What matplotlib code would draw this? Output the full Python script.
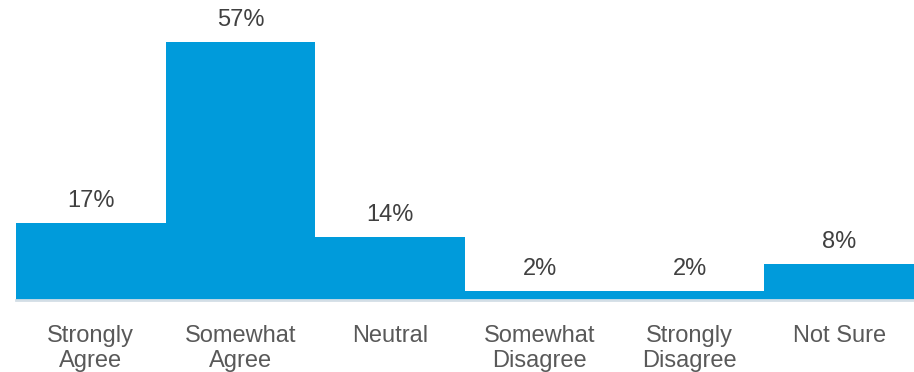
import numpy as np
import matplotlib.pyplot as plt

plt.rcParams['font.family'] = ['Liberation Sans', 'DejaVu Sans']

categories = ["Strongly\nAgree", "Somewhat\nAgree", "Neutral", "Somewhat\nDisagree", "Strongly\nDisagree", "Not Sure"]
values = [17, 57, 14, 2, 2, 8]

fig = plt.figure(figsize=(9.14, 3.72), dpi=100)
ax = fig.add_axes([16/914, 72/372, 898/914, 300/372])

x = np.arange(len(categories))
ax.bar(x, values, width=1.0, color="#009BDB", edgecolor="none")
ax.set_xlim(-0.5, len(categories) - 0.5)
ax.set_ylim(0, 66.2)

for xi, v in zip(x, values):
    ax.annotate("%d%%" % v, (xi, v), xytext=(0, 11), textcoords="offset pixels",
                ha="center", va="bottom", fontsize=17, color="#404040")

ax.set_xticks(x)
ax.set_xticklabels(categories, fontsize=17, color="#595959", linespacing=1.2)
ax.tick_params(axis="x", length=0, pad=18)
ax.set_yticks([])
for s in ["top", "left", "right"]:
    ax.spines[s].set_visible(False)
ax.spines["bottom"].set_color("#D3DEE6")
ax.spines["bottom"].set_linewidth(2)

fig.savefig("out.png", dpi=100)
